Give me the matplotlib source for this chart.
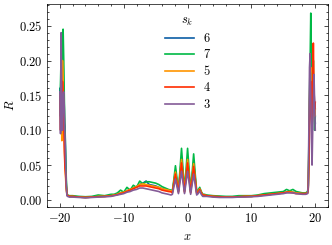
import matplotlib
matplotlib.use("Agg")
import matplotlib.pyplot as plt
from matplotlib.ticker import AutoMinorLocator

# shared x grid (dense at the edges and in the centre)
x = [-20.0, -19.9, -19.8, -19.7, -19.6, -19.5, -19.4, -19.3, -19.2, -19.1, -19.0, -18.9, -18.8, -18.5,
     -18, -17, -16, -15, -14, -13, -12,
     -11.5, -11, -10.5, -10, -9.5, -9, -8.5, -8, -7.5, -7, -6.5, -6, -5.5, -5, -4.5, -4, -3.5, -3, -2.6,
     -2.38, -2.14, -1.90, -1.66, -1.43, -1.19, -0.95, -0.71, -0.48, -0.24, 0.0, 0.24, 0.48, 0.71, 0.95,
     1.19, 1.43, 1.66, 1.90, 2.14, 2.38,
     2.6, 3, 4, 5, 6, 7, 8, 9, 10, 11, 12, 13, 14, 15, 15.5, 16, 16.5, 17, 18,
     18.5, 18.8, 18.9, 19.0, 19.1, 19.2, 19.3, 19.4, 19.5, 19.6, 19.7, 19.8, 19.9, 20.0]

labels = ["6", "7", "5", "4", "3"]

R_6 = [0.160, 0.120, 0.220, 0.238, 0.150, 0.200, 0.140, 0.110, 0.105, 0.060, 0.020, 0.008, 0.006, 0.005,
       0.005, 0.004, 0.0035, 0.004, 0.005, 0.005, 0.006,
       0.007, 0.008, 0.010, 0.011, 0.013, 0.015, 0.017, 0.019, 0.022, 0.024, 0.027, 0.022, 0.021, 0.020,
       0.018, 0.016, 0.015, 0.014, 0.013,
       0.012, 0.026, 0.041, 0.026, 0.013, 0.036, 0.060, 0.036, 0.013, 0.035, 0.059, 0.035, 0.012, 0.032,
       0.053, 0.032, 0.011, 0.013, 0.016, 0.011, 0.007,
       0.007, 0.006, 0.005, 0.0045, 0.004, 0.004, 0.0045, 0.005, 0.005, 0.006, 0.007, 0.008, 0.009, 0.010,
       0.011, 0.012, 0.011, 0.010, 0.009,
       0.009, 0.010, 0.017, 0.060, 0.130, 0.170, 0.180, 0.140, 0.120, 0.150, 0.170, 0.160, 0.130, 0.110]

R_7 = [0.140, 0.170, 0.210, 0.190, 0.230, 0.245, 0.200, 0.140, 0.100, 0.060, 0.030, 0.010, 0.007, 0.006,
       0.006, 0.005, 0.0045, 0.005, 0.007, 0.006, 0.008,
       0.008, 0.010, 0.014, 0.011, 0.018, 0.014, 0.021, 0.018, 0.027, 0.023, 0.026, 0.026, 0.025, 0.024,
       0.022, 0.019, 0.017, 0.015, 0.014,
       0.013, 0.030, 0.049, 0.031, 0.014, 0.043, 0.074, 0.043, 0.014, 0.043, 0.074, 0.043, 0.013, 0.038,
       0.066, 0.038, 0.012, 0.014, 0.018, 0.012, 0.008,
       0.008, 0.007, 0.006, 0.0055, 0.005, 0.005, 0.006, 0.006, 0.006, 0.007, 0.009, 0.010, 0.011, 0.012,
       0.015, 0.013, 0.015, 0.012, 0.010,
       0.010, 0.012, 0.020, 0.080, 0.150, 0.200, 0.268, 0.170, 0.120, 0.160, 0.200, 0.140, 0.100, 0.120]

R_5 = [0.150, 0.130, 0.180, 0.085, 0.200, 0.170, 0.120, 0.080, 0.050, 0.030, 0.015, 0.008, 0.006, 0.005,
       0.005, 0.004, 0.0035, 0.004, 0.005, 0.005, 0.006,
       0.007, 0.008, 0.010, 0.011, 0.013, 0.015, 0.017, 0.019, 0.022, 0.023, 0.022, 0.021, 0.020, 0.019,
       0.018, 0.016, 0.015, 0.014, 0.013,
       0.011, 0.026, 0.040, 0.026, 0.012, 0.035, 0.058, 0.035, 0.012, 0.035, 0.058, 0.035, 0.011, 0.031,
       0.052, 0.031, 0.010, 0.012, 0.016, 0.011, 0.007,
       0.007, 0.006, 0.005, 0.0045, 0.004, 0.004, 0.0045, 0.005, 0.005, 0.006, 0.007, 0.008, 0.009, 0.010,
       0.011, 0.012, 0.011, 0.010, 0.009,
       0.009, 0.010, 0.018, 0.070, 0.140, 0.180, 0.190, 0.150, 0.110, 0.140, 0.180, 0.140, 0.120, 0.130]

R_4 = [0.150, 0.100, 0.190, 0.120, 0.170, 0.150, 0.110, 0.070, 0.045, 0.035, 0.020, 0.008, 0.006, 0.005,
       0.005, 0.004, 0.0035, 0.004, 0.0045, 0.005, 0.0055,
       0.0065, 0.0075, 0.009, 0.010, 0.012, 0.014, 0.016, 0.018, 0.020, 0.020, 0.020, 0.019, 0.018, 0.017,
       0.016, 0.014, 0.013, 0.012, 0.0115,
       0.010, 0.024, 0.037, 0.024, 0.011, 0.032, 0.053, 0.032, 0.011, 0.032, 0.053, 0.032, 0.010, 0.029,
       0.048, 0.029, 0.009, 0.011, 0.015, 0.010, 0.007,
       0.007, 0.006, 0.005, 0.0045, 0.004, 0.004, 0.0045, 0.005, 0.005, 0.006, 0.007, 0.008, 0.009, 0.010,
       0.011, 0.011, 0.010, 0.009, 0.009,
       0.009, 0.010, 0.015, 0.050, 0.110, 0.140, 0.170, 0.120, 0.100, 0.150, 0.225, 0.160, 0.130, 0.140]

R_3 = [0.155, 0.095, 0.240, 0.130, 0.100, 0.150, 0.155, 0.130, 0.090, 0.050, 0.020, 0.006, 0.005, 0.004,
       0.004, 0.0035, 0.003, 0.0035, 0.004, 0.0045, 0.005,
       0.006, 0.007, 0.008, 0.009, 0.011, 0.012, 0.014, 0.015, 0.017, 0.017, 0.016, 0.015, 0.014, 0.013,
       0.012, 0.010, 0.009, 0.008, 0.007,
       0.008, 0.019, 0.030, 0.019, 0.009, 0.025, 0.041, 0.025, 0.009, 0.025, 0.041, 0.025, 0.008, 0.022,
       0.037, 0.022, 0.007, 0.009, 0.013, 0.008, 0.005,
       0.005, 0.005, 0.004, 0.0035, 0.0035, 0.0035, 0.004, 0.004, 0.0045, 0.005, 0.006, 0.007, 0.008, 0.009,
       0.010, 0.010, 0.010, 0.009, 0.008,
       0.008, 0.009, 0.020, 0.100, 0.190, 0.210, 0.150, 0.090, 0.050, 0.100, 0.140, 0.180, 0.140, 0.100]

series = [R_6, R_7, R_5, R_4, R_3]
colors = ["#0C5DA5", "#00B945", "#FF9500", "#FF2C00", "#845B97"]

plt.rcParams.update({
    "font.family": "serif",
    "font.serif": ["cmr10"],
    "mathtext.fontset": "cm",
    "axes.formatter.use_mathtext": True,
    "font.size": 9,
    "axes.linewidth": 0.5,
    "xtick.direction": "in",
    "ytick.direction": "in",
    "xtick.top": True,
    "ytick.right": True,
    "xtick.major.size": 3,
    "ytick.major.size": 3,
    "xtick.minor.size": 1.5,
    "ytick.minor.size": 1.5,
    "xtick.major.width": 0.5,
    "ytick.major.width": 0.5,
    "xtick.minor.width": 0.5,
    "ytick.minor.width": 0.5,
})

fig, ax = plt.subplots(figsize=(3.32, 2.45), dpi=100)
fig.subplots_adjust(left=0.142, right=0.988, bottom=0.155, top=0.984)

for y, c, lab in zip(series, colors, labels):
    ax.plot(x, y, color=c, lw=1.2, label=lab)

ax.set_xlabel("$x$")
ax.set_ylabel("$R$", labelpad=1)
ax.set_xticks([-20, -10, 0, 10, 20])
ax.set_yticks([0.0, 0.05, 0.10, 0.15, 0.20, 0.25])
ax.xaxis.set_minor_locator(AutoMinorLocator())
ax.yaxis.set_minor_locator(AutoMinorLocator())

ax.legend(title="$s_k$", loc="upper center", frameon=False, handlelength=2.3,
          labelspacing=0.35)

plt.savefig("out.png", dpi=100)
